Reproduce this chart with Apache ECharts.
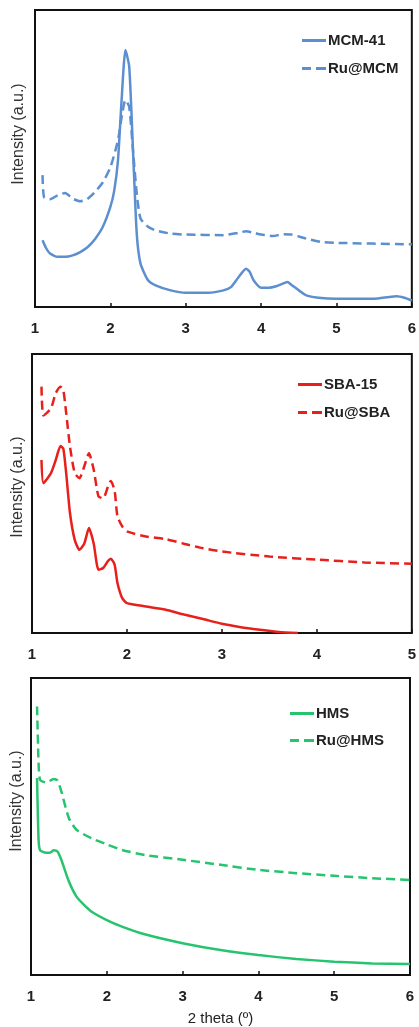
<!DOCTYPE html>
<html>
<head>
<meta charset="utf-8">
<script src="https://cdn.jsdelivr.net/npm/echarts@6/dist/echarts.min.js"></script>
<style>
  html, body { margin: 0; padding: 0; background: #fff; }
  #chart { width: 419px; height: 1027px; }
</style>
</head>
<body>
<div id="chart"></div>
<script>
// intensities in arbitrary units, 0 = bottom of frame, 100 = top of frame

// MCM panel
const mcmX = [1.1, 1.15, 1.2, 1.3, 1.4, 1.5, 1.6, 1.7, 1.8, 1.9, 2.0, 2.05, 2.1, 2.15, 2.2, 2.25, 2.3, 2.35, 2.4, 2.5, 2.6, 2.8, 3.0, 3.3, 3.5, 3.6, 3.7, 3.8, 3.85, 3.9, 4.0, 4.1, 4.2, 4.3, 4.35, 4.4, 4.5, 4.6, 4.8, 5.0, 5.5, 5.7, 5.8, 5.9, 6.0];
const mcm41 = [22.5, 19.7, 18, 16.9, 16.9, 17.4, 18.5, 20.2, 23, 27, 33.7, 39, 49, 70, 86.5, 81, 53, 24.7, 14.6, 9, 7.3, 5.6, 4.8, 4.8, 5.6, 6.7, 10, 12.9, 11.8, 9, 6.5, 6.5, 7, 8, 8.4, 7.5, 5.6, 3.9, 3, 2.8, 2.8, 3.4, 3.6, 3.1, 2.2];
const ruMcmX = [1.1, 1.12, 1.2, 1.3, 1.4, 1.5, 1.6, 1.7, 1.8, 1.9, 2.0, 2.1, 2.15, 2.2, 2.25, 2.3, 2.35, 2.4, 2.5, 2.6, 2.8, 3.0, 3.5, 3.7, 3.8, 3.9, 4.0, 4.15, 4.3, 4.4, 4.6, 4.8, 5.0, 6.0];
const ruMcm = [44.4, 37, 36.3, 37.6, 38.4, 36.5, 35.6, 36.5, 38.8, 42, 47, 56, 64, 69.7, 67.4, 52.8, 38.2, 29.8, 27, 25.8, 24.7, 24.4, 24.2, 25, 25.5, 25, 24.4, 23.9, 24.5, 24.4, 23, 21.9, 21.6, 21.1];

// SBA panel
const sbaX = [1.1, 1.12, 1.2, 1.25, 1.3, 1.33, 1.36, 1.4, 1.45, 1.5, 1.55, 1.6, 1.65, 1.7, 1.75, 1.8, 1.83, 1.87, 1.9, 1.95, 2.0, 2.2, 2.4, 2.6, 2.8, 3.0, 3.2, 3.4, 3.6, 3.8];
const sba15 = [62, 53.7, 57.3, 62, 67, 66, 57.3, 43, 33.4, 29.8, 32, 37.6, 32, 22.7, 23.3, 25.8, 26.6, 24.5, 17.9, 12.5, 10.7, 9.5, 8.4, 6.6, 5, 3.3, 2.1, 1.2, 0.4, 0];
const ruSbaX = [1.1, 1.12, 1.2, 1.25, 1.3, 1.33, 1.36, 1.4, 1.45, 1.5, 1.55, 1.6, 1.65, 1.7, 1.75, 1.8, 1.83, 1.87, 1.9, 1.95, 2.0, 2.2, 2.4, 2.6, 2.8, 3.0, 3.5, 4.0, 4.5, 5.0];
const ruSba = [88.3, 78, 80.5, 86, 88.3, 87, 78.8, 66.8, 57.3, 55.5, 59.7, 64.4, 58.5, 49, 48.3, 52.5, 54.5, 51, 41.8, 38.2, 36.4, 34.6, 33.7, 32, 30.4, 29.2, 27.4, 26.3, 25.3, 24.8];

// HMS panel
const hmsX = [1.08, 1.1, 1.12, 1.2, 1.25, 1.3, 1.35, 1.4, 1.5, 1.6, 1.7, 1.8, 2.0, 2.2, 2.5, 3.0, 3.5, 4.0, 4.5, 5.0, 5.5, 6.0];
const hms = [66.3, 45.5, 42, 41.2, 41.2, 42, 41.6, 38.8, 31.5, 26.4, 23.6, 21.3, 18.5, 16.3, 13.7, 10.7, 8.4, 6.7, 5.4, 4.5, 3.9, 3.7];
const ruHmsX = [1.08, 1.1, 1.12, 1.2, 1.3, 1.35, 1.4, 1.5, 1.6, 1.8, 2.0, 2.2, 2.5, 3.0, 3.5, 4.0, 4.5, 5.0, 5.5, 6.0];
const ruHms = [90.4, 71.3, 65.7, 64.8, 66, 65.5, 61.8, 52.8, 48.9, 46, 44, 42.1, 40.4, 38.8, 37.1, 35.4, 34.3, 33.4, 32.6, 32];

const BLUE = '#5b8fd0';
const RED = '#e8201c';
const GREEN = '#26c46f';
const FONT = 'Liberation Sans, Arial, sans-serif';
const SOLID_ICON = 'path://M0,0h24v3h-24z';
const DASH_ICON = 'path://M0,0h9v3h-9z M14,0h10v3h-10z';

const pair = (xs, ys) => xs.map((x, i) => [x, ys[i]]);

const chart = echarts.init(document.getElementById('chart'), null, { renderer: 'canvas' });

const grids = [
  { left: 35, top: 10, width: 380, height: 297 },
  { left: 32, top: 354, width: 381, height: 279 },
  { left: 31, top: 678, width: 379, height: 297 }
].map(g => Object.assign(g, { show: true, borderColor: '#111', borderWidth: 2, backgroundColor: 'transparent' }));

function xAxis(gridIndex, max, name) {
  return {
    type: 'value',
    gridIndex,
    min: 1,
    max,
    interval: 1,
    axisLine: { show: false },
    axisTick: { show: true, inside: true, length: 4, lineStyle: { color: '#111', width: 1.5 } },
    splitLine: { show: false },
    axisLabel: { margin: 14, color: '#222', fontSize: 15, fontWeight: 'bold', fontFamily: FONT },
    name: name || '',
    nameLocation: 'middle',
    nameGap: 36,
    nameTextStyle: { color: '#222', fontSize: 15, fontFamily: FONT }
  };
}

function yAxis(gridIndex) {
  return { type: 'value', gridIndex, min: 0, max: 100, show: false };
}

function line(name, data, idx, color, dashed) {
  return {
    name,
    type: 'line',
    xAxisIndex: idx,
    yAxisIndex: idx,
    data,
    showSymbol: false,
    symbol: 'none',
    smooth: 0.2,
    lineStyle: { color, width: 2.5, type: dashed ? [9, 5] : 'solid' },
    itemStyle: { color }
  };
}

function legend(names, left, top, gap) {
  return {
    data: [
      { name: names[0], icon: SOLID_ICON },
      { name: names[1], icon: DASH_ICON }
    ],
    orient: 'vertical',
    left,
    top,
    itemWidth: 24,
    itemHeight: 3,
    itemGap: gap,
    textStyle: { color: '#222', fontSize: 15, fontWeight: 'bold', fontFamily: FONT, padding: [0, 0, 0, -3] }
  };
}

function yName(x, y) {
  return {
    type: 'text',
    x, y,
    rotation: Math.PI / 2,
    style: { text: 'Intensity (a.u.)', fill: '#333', fontSize: 16, fontFamily: FONT, align: 'center', verticalAlign: 'middle' }
  };
}

chart.setOption({
  animation: false,
  grid: grids,
  xAxis: [xAxis(0, 6), xAxis(1, 5), xAxis(2, 6, '2 theta (\u00ba)')],
  yAxis: [yAxis(0), yAxis(1), yAxis(2)],
  legend: [
    legend(['MCM-41', 'Ru@MCM'], 297, 28, 13),
    legend(['SBA-15', 'Ru@SBA'], 293, 372, 13),
    legend(['HMS', 'Ru@HMS'], 285, 701, 12)
  ],
  graphic: [yName(19, 134), yName(18, 487), yName(17, 801)],
  series: [
    line('MCM-41', pair(mcmX, mcm41), 0, BLUE, false),
    line('Ru@MCM', pair(ruMcmX, ruMcm), 0, BLUE, true),
    line('SBA-15', pair(sbaX, sba15), 1, RED, false),
    line('Ru@SBA', pair(ruSbaX, ruSba), 1, RED, true),
    line('HMS', pair(hmsX, hms), 2, GREEN, false),
    line('Ru@HMS', pair(ruHmsX, ruHms), 2, GREEN, true)
  ]
});
</script>
</body>
</html>
